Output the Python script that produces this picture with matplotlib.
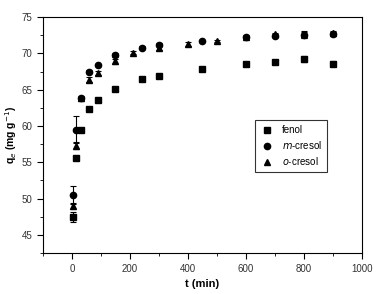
import numpy as np
import matplotlib
matplotlib.use('Agg')
import matplotlib.pyplot as plt
from matplotlib.ticker import MultipleLocator

plt.rcParams['font.family'] = ['Liberation Sans', 'DejaVu Sans']

# fenol
t_fen = [5, 15, 30, 60, 90, 150, 240, 300, 450, 600, 700, 800, 900]
q_fen = [47.5, 55.6, 59.5, 62.4, 63.6, 65.1, 66.5, 66.9, 67.9, 68.6, 68.8, 69.2, 68.6]
e_fen = [0.7, 0.3, 0.2, 0.2, 0.2, 0.2, 0.2, 0.2, 0.2, 0.2, 0.2, 0.4, 0.3]

# m-cresol
t_m = [5, 15, 30, 60, 90, 150, 240, 300, 450, 600, 700, 800, 900]
q_m = [50.5, 59.5, 63.8, 67.5, 68.4, 69.8, 70.8, 71.2, 71.7, 72.2, 72.4, 72.5, 72.7]
e_m = [1.2, 1.9, 0.2, 0.2, 0.2, 0.3, 0.2, 0.2, 0.2, 0.2, 0.2, 0.4, 0.2]

# o-cresol
t_o = [5, 15, 30, 60, 90, 150, 210, 300, 400, 500, 600, 700, 800, 900]
q_o = [49.0, 57.3, 63.8, 66.4, 67.3, 68.9, 70.1, 70.7, 71.3, 71.7, 72.3, 72.6, 72.6, 72.8]
e_o = [0.4, 0.5, 0.3, 0.3, 0.3, 0.3, 0.2, 0.3, 0.3, 0.2, 0.2, 0.2, 0.5, 0.3]

fig = plt.figure(figsize=(3.83, 2.94), dpi=100)
ax = fig.add_axes([0.112, 0.139, 0.833, 0.803])

kw = dict(color='black', ls='none', ms=4.5, capsize=2, elinewidth=0.8, capthick=0.8)
h1 = ax.errorbar(t_fen, q_fen, yerr=e_fen, marker='s', **kw)
h2 = ax.errorbar(t_m, q_m, yerr=e_m, marker='o', **kw)
h3 = ax.errorbar(t_o, q_o, yerr=e_o, marker='^', **kw)

ax.set_xlim(-100, 1000)
ax.set_ylim(42.5, 75)
ax.xaxis.set_major_locator(MultipleLocator(200))
ax.xaxis.set_minor_locator(MultipleLocator(100))
ax.yaxis.set_major_locator(MultipleLocator(5))
ax.yaxis.set_minor_locator(MultipleLocator(2.5))
ax.tick_params(which='both', direction='out', top=False, right=False,
               labelsize=7, labelcolor='#333333')
ax.tick_params(which='major', length=4)
ax.tick_params(which='minor', length=2.5)

ax.set_xlabel('t (min)', fontsize=8, fontweight='bold')
ax.set_ylabel('q$_e$ (mg g$^{-1}$)', fontsize=7.5, fontweight='bold')
ax.yaxis.set_label_coords(-0.075, 0.5)

leg = ax.legend([h1[0], h2[0], h3[0]], ['fenol', '$m$-cresol', '$o$-cresol'],
                loc='center right', bbox_to_anchor=(0.905, 0.453), fontsize=7,
                frameon=True, fancybox=False, edgecolor='black',
                handletextpad=0.8, borderpad=0.5, labelspacing=0.4, handlelength=1.5)
leg.get_frame().set_linewidth(0.8)

plt.savefig('out.png', dpi=100)
